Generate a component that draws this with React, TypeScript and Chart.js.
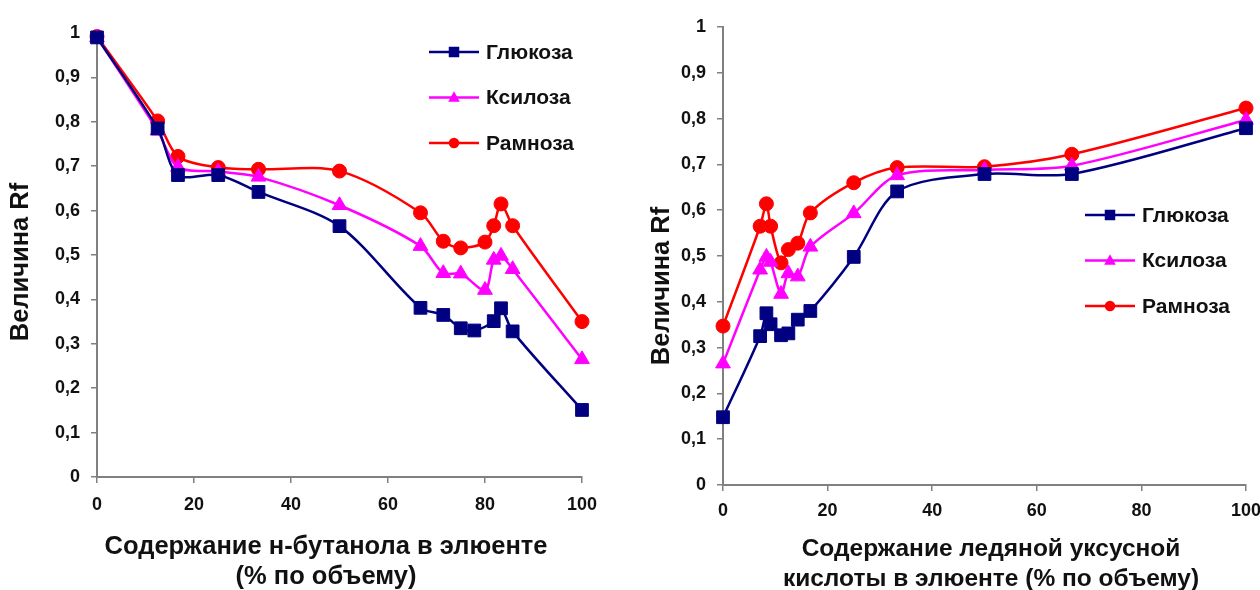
import React, { useEffect, useRef } from 'react';
import { Chart, registerables } from 'chart.js';

Chart.register(...registerables);

const FONT = "'Liberation Sans', Arial, sans-serif";

const SERIES_NAMES = ['Глюкоза', 'Ксилоза', 'Рамноза'];
const SERIES_COLORS = ['#000080', '#FF00FF', '#FF0000'];
const POINT_STYLES = ['rect', 'triangle', 'circle'];
const POINT_RADII = [9, 8.5, 7];

const Y_TICK_LABELS = ['0', '0,1', '0,2', '0,3', '0,4', '0,5', '0,6', '0,7', '0,8', '0,9', '1'];
const X_TICK_LABELS = ['0', '20', '40', '60', '80', '100'];

// Left chart: n-butanol content
const butanolGlucoseX = [0, 12.5, 16.7, 25, 33.3, 50, 66.7, 71.4, 75, 77.8, 81.8, 83.3, 85.7, 100];
const butanolGlucoseY = [0.99, 0.785, 0.68, 0.68, 0.642, 0.565, 0.381, 0.365, 0.335, 0.33, 0.351, 0.38, 0.328, 0.151];
const butanolXyloseX = [0, 12.5, 16.7, 25, 33.3, 50, 66.7, 71.4, 75, 80, 81.8, 83.3, 85.7, 100];
const butanolXyloseY = [0.99, 0.78, 0.698, 0.688, 0.676, 0.612, 0.52, 0.459, 0.458, 0.421, 0.489, 0.498, 0.468, 0.265];
const butanolRhamnoseX = [0, 12.5, 16.7, 25, 33.3, 50, 66.7, 71.4, 75, 80, 81.8, 83.3, 85.7, 100];
const butanolRhamnoseY = [0.992, 0.802, 0.722, 0.697, 0.693, 0.689, 0.595, 0.531, 0.516, 0.529, 0.566, 0.615, 0.566, 0.35];

// Right chart: glacial acetic acid content
const aceticX = [0, 7.1, 8.3, 9.1, 11.1, 12.5, 14.3, 16.7, 25, 33.3, 50, 66.7, 100];
const aceticGlucoseY = [0.148, 0.325, 0.375, 0.351, 0.327, 0.331, 0.361, 0.38, 0.498, 0.641, 0.679, 0.679, 0.779];
const aceticXyloseY = [0.265, 0.47, 0.498, 0.487, 0.417, 0.462, 0.455, 0.52, 0.593, 0.676, 0.688, 0.697, 0.797];
const aceticRhamnoseY = [0.347, 0.565, 0.614, 0.565, 0.485, 0.514, 0.528, 0.594, 0.66, 0.693, 0.695, 0.722, 0.823];

const Y_TITLE = 'Величина Rf';
const LEFT_X_TITLE = ['Содержание н-бутанола в элюенте', '(% по объему)'];
const RIGHT_X_TITLE = ['Содержание ледяной уксусной', 'кислоты в элюенте (% по объему)'];

const zip = (xs: number[], ys: number[]) => xs.map((x, i) => ({ x, y: ys[i] }));

type Layout = {
  width: number;
  height: number;
  padTop: number;
  padRight: number;
  yWidth: number;
  xHeight: number;
  xTickPad: number;
  yTickPad: number;
  xTitle: string[];
  xTitleSize: number;
  xTitleX: number;
  xTitleY: number;
  yTitleX: number;
  yTitleY: number;
  legendX: number;
  legendY: number;
};

function drawMarker(ctx: CanvasRenderingContext2D, style: string, x: number, y: number, s: number) {
  ctx.beginPath();
  if (style === 'rect') {
    ctx.rect(x - s / 2, y - s / 2, s, s);
  } else if (style === 'triangle') {
    ctx.moveTo(x, y - s * 0.6);
    ctx.lineTo(x + s * 0.55, y + s * 0.4);
    ctx.lineTo(x - s * 0.55, y + s * 0.4);
    ctx.closePath();
  } else {
    ctx.arc(x, y, s / 2, 0, Math.PI * 2);
  }
  ctx.fill();
}

function makeOverlay(L: Layout) {
  return {
    id: 'overlayText',
    afterDraw(chart: any) {
      const ctx: CanvasRenderingContext2D = chart.ctx;
      ctx.save();
      ctx.fillStyle = '#111';
      ctx.textAlign = 'center';
      ctx.textBaseline = 'middle';
      ctx.font = `bold ${L.xTitleSize}px ${FONT}`;
      L.xTitle.forEach((line, i) => ctx.fillText(line, L.xTitleX, L.xTitleY + i * 30));
      ctx.font = `bold 25.5px ${FONT}`;
      ctx.save();
      ctx.translate(L.yTitleX, L.yTitleY);
      ctx.rotate(-Math.PI / 2);
      ctx.fillText(Y_TITLE, 0, 0);
      ctx.restore();

      // legend
      ctx.font = `bold 21px ${FONT}`;
      ctx.textAlign = 'left';
      chart.data.datasets.forEach((ds: any, i: number) => {
        const y = L.legendY + i * 45.5;
        ctx.strokeStyle = ds.borderColor;
        ctx.lineWidth = 2.5;
        ctx.beginPath();
        ctx.moveTo(L.legendX, y);
        ctx.lineTo(L.legendX + 50, y);
        ctx.stroke();
        ctx.fillStyle = ds.borderColor;
        drawMarker(ctx, POINT_STYLES[i], L.legendX + 25, y, 10.5);
        ctx.fillStyle = '#111';
        ctx.fillText(ds.label, L.legendX + 57, y + 1);
      });
      ctx.restore();
    },
  };
}

function makeConfig(series: { x: number, y: number }[][], L: Layout): any {
  const tickFont = { family: FONT, size: 18, weight: 'bold' as const };
  return {
    type: 'line',
    data: {
      datasets: series.map((pts, i) => ({
        label: SERIES_NAMES[i],
        data: pts,
        borderColor: SERIES_COLORS[i],
        backgroundColor: SERIES_COLORS[i],
        pointBackgroundColor: SERIES_COLORS[i],
        pointBorderColor: SERIES_COLORS[i],
        pointBorderWidth: 1,
        pointStyle: POINT_STYLES[i],
        pointRadius: POINT_RADII[i],
        borderWidth: 2.5,
        tension: 0.3,
        fill: false,
        clip: false,
      })),
    },
    options: {
      responsive: false,
      animation: false,
      layout: { padding: { top: L.padTop, right: L.padRight, left: 0, bottom: 0 } },
      plugins: { legend: { display: false }, tooltip: { enabled: false } },
      scales: {
        x: {
          type: 'linear',
          min: 0,
          max: 100,
          ticks: {
            stepSize: 20,
            font: tickFont,
            color: '#111',
            padding: L.xTickPad,
            maxRotation: 0,
            autoSkip: false,
            callback: (v: number) => X_TICK_LABELS[Math.round(v / 20)],
          },
          grid: { drawOnChartArea: false, drawTicks: true, tickLength: 6, color: '#808080', lineWidth: 1.5 },
          border: { display: true, color: '#808080', width: 2 },
          afterFit: (s: any) => {
            s.height = L.xHeight;
            s.paddingRight = 0;
            s.paddingLeft = 0;
          },
        },
        y: {
          type: 'linear',
          min: 0,
          max: 1,
          ticks: {
            stepSize: 0.1,
            font: tickFont,
            color: '#111',
            padding: L.yTickPad,
            autoSkip: false,
            callback: (v: number) => Y_TICK_LABELS[Math.round(v * 10)],
          },
          grid: { drawOnChartArea: false, drawTicks: true, tickLength: 6, color: '#808080', lineWidth: 1.5 },
          border: { display: true, color: '#808080', width: 2 },
          afterFit: (s: any) => {
            s.width = L.yWidth;
            s.paddingTop = 0;
            s.paddingBottom = 0;
          },
        },
      },
    },
    plugins: [makeOverlay(L)],
  };
}

const LEFT_LAYOUT: Layout = {
  width: 625, height: 590, padTop: 33, padRight: 43, yWidth: 97, xHeight: 113,
  xTickPad: 11, yTickPad: 11,
  xTitle: LEFT_X_TITLE, xTitleSize: 25.5, xTitleX: 326, xTitleY: 547, yTitleX: 21, yTitleY: 262,
  legendX: 429, legendY: 52,
};

const RIGHT_LAYOUT: Layout = {
  width: 630, height: 590, padTop: 27, padRight: 14, yWidth: 93, xHeight: 105,
  xTickPad: 9, yTickPad: 11,
  xTitle: RIGHT_X_TITLE, xTitleSize: 24.5, xTitleX: 361, xTitleY: 549, yTitleX: 32, yTitleY: 286,
  legendX: 455, legendY: 215,
};

function ChartCanvas({ series, layout, left }: { series: { x: number, y: number }[][], layout: Layout, left: number }) {
  const ref = useRef<HTMLCanvasElement>(null);
  useEffect(() => {
    if (!ref.current) return;
    const chart = new Chart(ref.current, makeConfig(series, layout));
    return () => chart.destroy();
  }, []);
  return (
    <canvas
      ref={ref}
      width={layout.width}
      height={layout.height}
      style={{ position: 'absolute', left, top: 0, width: layout.width, height: layout.height, display: 'block' }}
    />
  );
}

export default function App() {
  const leftSeries = [
    zip(butanolGlucoseX, butanolGlucoseY),
    zip(butanolXyloseX, butanolXyloseY),
    zip(butanolRhamnoseX, butanolRhamnoseY),
  ];
  const rightSeries = [
    zip(aceticX, aceticGlucoseY),
    zip(aceticX, aceticXyloseY),
    zip(aceticX, aceticRhamnoseY),
  ];
  return (
    <div style={{ position: 'absolute', left: 0, top: 0, width: 1260, height: 590, background: '#fff', overflow: 'hidden' }}>
      <ChartCanvas series={leftSeries} layout={LEFT_LAYOUT} left={0} />
      <ChartCanvas series={rightSeries} layout={RIGHT_LAYOUT} left={630} />
    </div>
  );
}
